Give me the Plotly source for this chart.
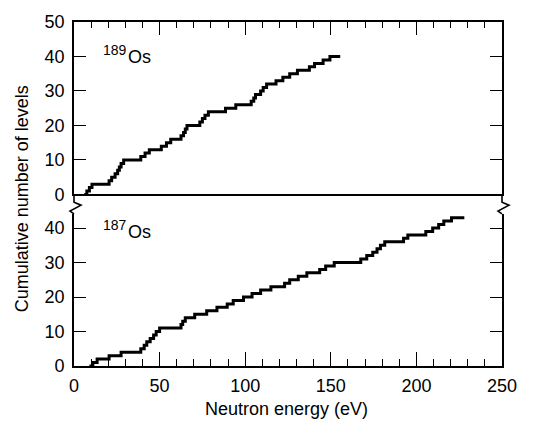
import plotly.graph_objects as go

# 189Os: energies (eV) where the cumulative count steps, and the count reached
os189_energy = [6, 7.5, 9, 10.5, 20.5, 22, 24, 25.5, 26.5, 27.5, 29, 39, 41.5, 44,
                51, 54, 56.5, 62.5, 64, 65, 66, 73.5, 75, 76.5, 78.5, 88.5, 94.5,
                103.5, 105, 106, 109, 110.5, 112.5, 118, 122, 126, 130.5, 137.5,
                140.5, 145.5, 149.5, 155.5]
os189_levels = [0, 1, 2, 3, 4, 5, 6, 7, 8, 9, 10, 11, 12, 13,
                14, 15, 16, 17, 18, 19, 20, 21, 22, 23, 24, 25, 26,
                27, 28, 29, 30, 31, 32, 33, 34, 35, 36, 37,
                38, 39, 40, 40]

# 187Os
os187_energy = [9, 11, 13.5, 20.5, 27.5, 39, 41, 42.5, 44.5, 46.5, 48, 50,
                62.5, 63.5, 65, 70.5, 77.5, 83.5, 89.5, 93, 99, 104, 109, 115,
                123, 126, 131, 136, 143.5, 147, 152, 167.5, 171, 174.5, 177,
                179, 181.5, 192.5, 195, 205.5, 209.5, 213, 216, 220.5, 228]
os187_levels = [0, 1, 2, 3, 4, 5, 6, 7, 8, 9, 10, 11,
                12, 13, 14, 15, 16, 17, 18, 19, 20, 21, 22, 23,
                24, 25, 26, 27, 28, 29, 30, 31, 32, 33, 34,
                35, 36, 37, 38, 39, 40, 41, 42, 43, 43]

x_ticks = [0, 50, 100, 150, 200, 250]
top_y_ticks = [0, 10, 20, 30, 40, 50]
bottom_y_ticks = [0, 10, 20, 30, 40]

FONT = "Liberation Sans, Arial, Helvetica, sans-serif"
W, H = 542, 432
ML, MR, MT, MB = 74, 40, 13, 66
PW, PH = W - ML - MR, H - MT - MB


def px(xp):
    return (xp - ML) / PW


def py(yp):
    return (H - MB - yp) / PH


top_dom = [py(190), 1.0]
bot_dom = [0.0, py(210)]
bot_top = (H - MB - 210) / ((190 - 13) / 50)

fig = go.Figure()
fig.add_trace(go.Scatter(x=os189_energy, y=os189_levels, mode="lines",
                         line=dict(shape="hv", color="black", width=3),
                         xaxis="x2", yaxis="y2", showlegend=False))
fig.add_trace(go.Scatter(x=os187_energy, y=os187_levels, mode="lines",
                         line=dict(shape="hv", color="black", width=3),
                         xaxis="x", yaxis="y", showlegend=False))

axis_common = dict(showgrid=False, zeroline=False, showline=True,
                   linecolor="black", linewidth=1.6, tickcolor="black",
                   tickwidth=1.4,
                   tickfont=dict(family=FONT, size=18, color="black"))

fig.update_layout(
    width=W, height=H,
    margin=dict(l=ML, r=MR, t=MT, b=MB, pad=0),
    paper_bgcolor="white", plot_bgcolor="white",
    xaxis=dict(domain=[0, 1], range=[0, 250], anchor="y",
               tickvals=x_ticks, ticks="inside", ticklen=14,
               minor=dict(dtick=10, ticks="inside", ticklen=7,
                          tickcolor="black", tickwidth=1.2),
               ticklabelstandoff=3, **axis_common),
    xaxis2=dict(domain=[0, 1], range=[0, 250], anchor="y2", side="top",
                matches="x", showticklabels=False, mirror=True,
                tickvals=x_ticks, ticks="inside", ticklen=13,
                minor=dict(dtick=10, ticks="inside", ticklen=6,
                           tickcolor="black", tickwidth=1.2),
                **axis_common),
    yaxis=dict(domain=bot_dom, range=[0, bot_top], anchor="x",
               tickvals=bottom_y_ticks, ticks="inside", ticklen=12,
               mirror="ticks", ticklabelstandoff=4, **axis_common),
    yaxis2=dict(domain=top_dom, range=[0, 50], anchor="x2",
                tickvals=top_y_ticks, ticks="inside", ticklen=12,
                mirror="ticks", ticklabelstandoff=4, **axis_common),
)

# axis-break zigzags on the left and right frame lines
def zig(x0):
    pts = [(x0, 190), (x0, 198), (x0 + 7, 201), (x0 - 4, 207), (x0, 210)]
    d = "M " + " L ".join(f"{px(a):.5f},{py(b):.5f}" for a, b in pts)
    return dict(type="path", path=d, xref="paper", yref="paper",
                line=dict(color="black", width=1.6))

fig.update_layout(shapes=[zig(74), zig(502)])

fig.add_annotation(x=px(22), y=py(195), xref="paper", yref="paper",
                   text="Cumulative number of levels", textangle=-90,
                   showarrow=False, xanchor="center", yanchor="middle",
                   font=dict(family=FONT, size=18, color="black"))
fig.add_annotation(x=px(286), y=py(410), xref="paper", yref="paper",
                   text="Neutron energy (eV)", showarrow=False,
                   xanchor="center", yanchor="middle",
                   font=dict(family=FONT, size=18, color="black"))

# isotope labels: mass number (raised, smaller) and element symbol
iso_labels = [("189", "x2", "y2", 42.0, 39.9), ("187", "x", "y", 40.8, 38.9)]
for mass, xr, yr, y_mass, y_sym in iso_labels:
    fig.add_annotation(x=16.0, y=y_mass, xref=xr, yref=yr, text=mass,
                       showarrow=False, xanchor="left", yanchor="middle",
                       font=dict(family=FONT, size=14, color="black"))
    fig.add_annotation(x=30.5, y=y_sym, xref=xr, yref=yr, text="Os",
                       showarrow=False, xanchor="left", yanchor="middle",
                       font=dict(family=FONT, size=18, color="black"))

fig.write_html("out.html")
